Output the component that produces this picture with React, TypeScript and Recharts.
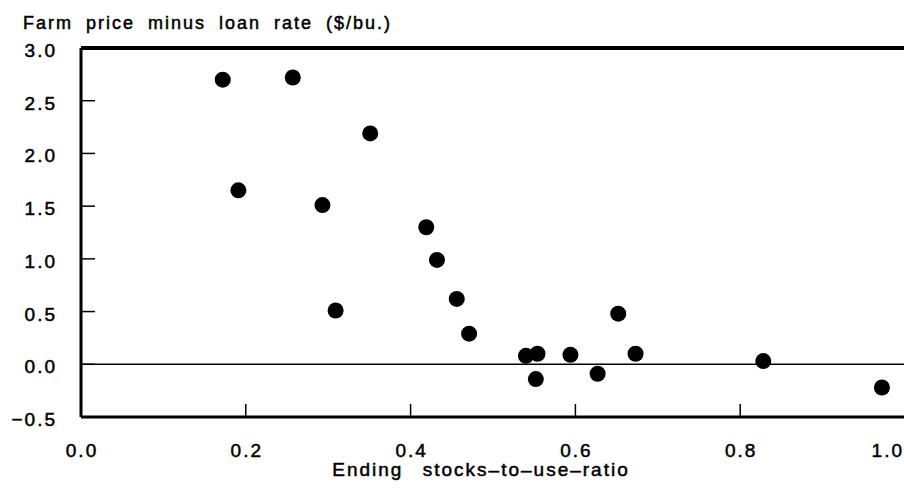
import { ScatterChart, Scatter, XAxis, YAxis, ReferenceLine } from 'recharts'

// ending stocks-to-use ratio (x) vs farm price minus loan rate (y)
const stocksToUse = [
  0.172, 0.257, 0.191, 0.351, 0.293, 0.309, 0.419, 0.432, 0.456, 0.471,
  0.540, 0.554, 0.552, 0.594, 0.627, 0.652, 0.673, 0.828, 0.972,
]
const priceMinusLoan = [
  2.70, 2.72, 1.65, 2.19, 1.51, 0.51, 1.30, 0.99, 0.62, 0.29,
  0.08, 0.10, -0.14, 0.09, -0.09, 0.48, 0.10, 0.03, -0.22,
]
const xTicks = [0, 0.2, 0.4, 0.6, 0.8, 1.0]
const yTicks = [-0.5, 0, 0.5, 1.0, 1.5, 2.0, 2.5, 3.0]

const FONT = '"Liberation Sans", Arial, Helvetica, sans-serif'
const textStyle = { fill: '#000', stroke: '#000', strokeWidth: 0.5, fontSize: 19, fontFamily: FONT, letterSpacing: 2 }

const points = stocksToUse.map((x, i) => ({ x, y: priceMinusLoan[i] }))

const fmt = (v: number) => (v < 0 ? '\u2212' : '') + Math.abs(v).toFixed(1)

const Dot = (props: any) => <circle cx={props.cx} cy={props.cy} r={8} fill="#000" />

// ticks drawn pointing into the plot, labels outside
const XTick = ({ x, y, payload }: any) => {
  const last = payload.value === 1
  return (
    <g>
      <line x1={x} y1={y} x2={x} y2={y - 13} stroke="#000" strokeWidth={1.5} />
      <text x={last ? 904 : x + 1} y={y + 40} textAnchor={last ? 'end' : 'middle'} style={textStyle}>
        {fmt(payload.value)}
      </text>
    </g>
  )
}

const YTick = ({ x, y, payload }: any) => (
  <g>
    <line x1={x} y1={y} x2={x + 14} y2={y} stroke="#000" strokeWidth={1.5} />
    <text x={x - 24} y={y + 9} textAnchor="end" style={textStyle}>
      {fmt(payload.value)}
    </text>
  </g>
)

export default function App() {
  return (
    <div style={{ position: 'relative', width: 904, height: 490, overflow: 'hidden', background: '#fff', fontFamily: FONT }}>
      <style>{'body{margin:0}'}</style>
      <div
        style={{
          position: 'absolute', left: 23, top: 13, fontSize: 18, lineHeight: '20px', color: '#000',
          letterSpacing: 2, wordSpacing: 6, whiteSpace: 'nowrap', WebkitTextStroke: '0.5px #000',
        }}
      >
        Farm price minus loan rate ($/bu.)
      </div>
      <div
        style={{
          position: 'absolute', left: 481, top: 459, transform: 'translateX(-50%)', fontSize: 19, lineHeight: '22px',
          color: '#000', letterSpacing: 2, wordSpacing: 12, whiteSpace: 'nowrap', WebkitTextStroke: '0.5px #000',
        }}
      >
        Ending stocks{'\u2013'}to{'\u2013'}use{'\u2013'}ratio
      </div>
      <ScatterChart width={920} height={490} margin={{ top: 48, right: 15, bottom: 0, left: 0 }}>
        <XAxis
          type="number"
          dataKey="x"
          domain={[0, 1]}
          ticks={xTicks}
          height={73}
          axisLine={{ stroke: '#000', strokeWidth: 3 }}
          tickLine={false}
          tickSize={0}
          tickMargin={0}
          tick={<XTick />}
        />
        <YAxis
          type="number"
          dataKey="y"
          domain={[-0.5, 3]}
          ticks={yTicks}
          width={81}
          axisLine={{ stroke: '#000', strokeWidth: 3 }}
          tickLine={false}
          tickSize={0}
          tickMargin={0}
          tick={<YTick />}
        />
        <ReferenceLine y={0} stroke="#000" strokeWidth={1.5} />
        <ReferenceLine y={3} stroke="#000" strokeWidth={4} />
        <Scatter data={points} fill="#000" shape={Dot} isAnimationActive={false} />
      </ScatterChart>
    </div>
  )
}
